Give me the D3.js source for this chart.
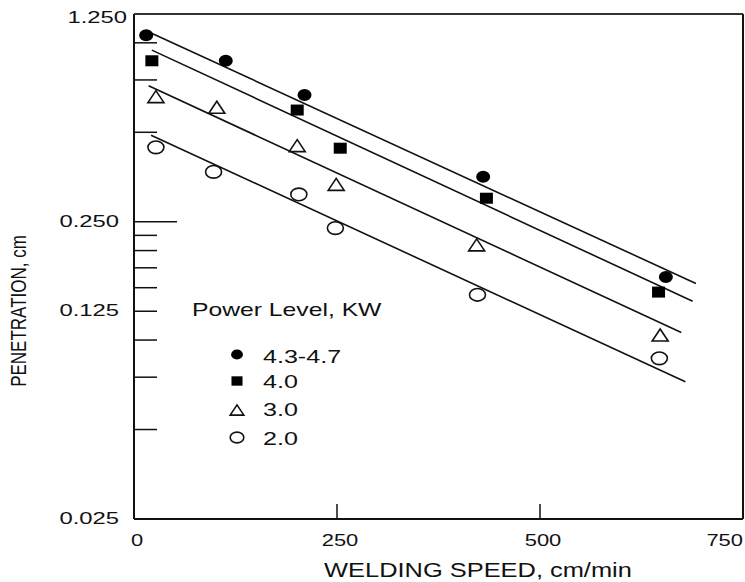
<!DOCTYPE html>
<html>
<head>
<meta charset="utf-8">
<script src="https://cdn.jsdelivr.net/npm/d3@7"></script>
<style>
  body { margin: 0; background: #fff; }
  svg { display: block; }
  text { font-family: "Liberation Sans", Arial, sans-serif; fill: #111; }
</style>
</head>
<body>
<script>
// series
const seriesNames = ['4.3-4.7', '4.0', '3.0', '2.0']
const speedHi = [15, 113, 210, 430, 655]
const penHi = [1.06, 0.87, 0.667, 0.354, 0.163]
const speed40 = [22, 201, 254, 434, 646]
const pen40 = [0.87, 0.594, 0.442, 0.300, 0.145]
const speed30 = [27, 102, 201, 249, 422, 648]
const pen30 = [0.659, 0.607, 0.451, 0.334, 0.209, 0.104]
const speed20 = [27, 98, 203, 248, 423, 647]
const pen20 = [0.445, 0.368, 0.309, 0.238, 0.142, 0.0868]

// fitted lines (start / end of each)
const fitSpeedStart = [21, 22, 18, 21]
const fitPenStart = [1.079, 0.945, 0.717, 0.489]
const fitSpeedEnd = [692, 688, 674, 679]
const fitPenEnd = [0.155, 0.135, 0.106, 0.0724]

// ticks
const xTicks = [0, 250, 500, 750]
const yLabels = [1.25, 0.25, 0.125, 0.025]
const yMinor = [1.0, 0.75, 0.5, 0.225, 0.2, 0.175, 0.15, 0.1, 0.075, 0.05]

let W = 745, H = 582
let pLeft = 134, pRight = 743, pTop = 14, pBottom = 519

let x = d3.scaleLinear().domain([0, 750]).range([pLeft, pRight])
let y = d3.scaleLog().domain([0.025, 1.25]).range([pBottom, pTop])

let svg = d3.select('body').append('svg').attr('width', W).attr('height', H)

// text helper: stretches glyphs horizontally like the scanned original
function label (g, str, px, py, size, stretch, anchor) {
  let t = g.append('text').attr('y', py).attr('font-size', size).text(str)
  let w = t.node().getComputedTextLength() * stretch
  let sx = px
  if (anchor == 'end') sx = px - w
  if (anchor == 'middle') sx = px - w / 2
  t.attr('x', sx).attr('textLength', w).attr('lengthAdjust', 'spacingAndGlyphs')
  return t
}

// frame
let frame = svg.append('g').attr('id', 'g_frame')
frame.append('line').attr('x1', pLeft).attr('y1', pTop).attr('x2', pLeft).attr('y2', pBottom)
  .attr('stroke', '#111').attr('stroke-width', 2)
frame.append('line').attr('x1', pLeft).attr('y1', pBottom).attr('x2', pRight).attr('y2', pBottom)
  .attr('stroke', '#111').attr('stroke-width', 2)
frame.append('line').attr('x1', pLeft).attr('y1', pTop).attr('x2', pRight).attr('y2', pTop)
  .attr('stroke', '#333').attr('stroke-width', 1.8)
frame.append('line').attr('x1', pRight).attr('y1', pTop).attr('x2', pRight).attr('y2', pBottom)
  .attr('stroke', '#111').attr('stroke-width', 2)

// y ticks, pointing inward
frame.selectAll('line.minor').data(yMinor).enter().append('line').attr('class', 'minor')
  .attr('x1', pLeft).attr('x2', pLeft + 23)
  .attr('y1', function (d) { return y(d) }).attr('y2', function (d) { return y(d) })
  .attr('stroke', '#111').attr('stroke-width', 1.5)
frame.selectAll('line.major').data(yLabels.filter(function (d) { return d > 0.025 && d < 1.25 }))
  .enter().append('line').attr('class', 'major')
  .attr('x1', pLeft).attr('x2', function (d) { return d == 0.25 ? pLeft + 43 : pLeft + 23 })
  .attr('y1', function (d) { return y(d) }).attr('y2', function (d) { return y(d) })
  .attr('stroke', '#111').attr('stroke-width', 1.5)

// x ticks, pointing up
frame.selectAll('line.xt').data(xTicks.filter(function (d) { return d > 0 && d < 750 }))
  .enter().append('line').attr('class', 'xt')
  .attr('x1', function (d) { return x(d) }).attr('x2', function (d) { return x(d) })
  .attr('y1', pBottom).attr('y2', pBottom - 15)
  .attr('stroke', '#111').attr('stroke-width', 1.5)

let texts = svg.append('g').attr('id', 'g_texts')
yLabels.forEach(function (d) {
  let py = Math.max(y(d) + 5, 23)
  label(texts, d3.format('.3f')(d), d == 1.25 ? 127 : 119, py, 17, 1.4, 'end')
})
xTicks.forEach(function (d) {
  label(texts, String(d), d == 750 ? x(d) : x(d) + 3, 546, 16, 1.37, d == 750 ? 'end' : 'middle')
})
label(texts, 'WELDING SPEED, cm/min', 478, 577, 21, 1.21, 'middle')
texts.append('text').attr('font-size', 17).attr('text-anchor', 'middle')
  .attr('transform', 'translate(26,311) scale(1.33,1) rotate(-90)')
  .text('PENETRATION, cm')

// fitted lines
let fits = seriesNames.map(function (n, i) {
  return {s1: fitSpeedStart[i], p1: fitPenStart[i], s2: fitSpeedEnd[i], p2: fitPenEnd[i]}
})
svg.append('g').attr('id', 'g_lines').selectAll('line').data(fits).enter().append('line')
  .attr('x1', function (d) { return x(d.s1) }).attr('y1', function (d) { return y(d.p1) })
  .attr('x2', function (d) { return x(d.s2) }).attr('y2', function (d) { return y(d.p2) })
  .attr('stroke', '#111').attr('stroke-width', 1.6)

// marker drawing
function marker (g, kind, cx, cy, k) {
  if (kind == 0) {
    g.append('ellipse').attr('cx', cx).attr('cy', cy).attr('rx', 7 * k).attr('ry', 6 * k).attr('fill', '#000')
  } else if (kind == 1) {
    g.append('rect').attr('x', cx - 6.5 * k).attr('y', cy - 5.5 * k).attr('width', 13 * k).attr('height', 11 * k).attr('fill', '#000')
  } else if (kind == 2) {
    let w = 8 * k, h = 6 * k
    g.append('path').attr('d', 'M' + (cx - w) + ',' + (cy + h) + 'L' + cx + ',' + (cy - h) + 'L' + (cx + w) + ',' + (cy + h) + 'Z')
      .attr('fill', '#fff').attr('stroke', '#111').attr('stroke-width', 1.6)
  } else {
    g.append('ellipse').attr('cx', cx).attr('cy', cy).attr('rx', 8 * k).attr('ry', 6.3 * k)
      .attr('fill', '#fff').attr('stroke', '#111').attr('stroke-width', 1.6)
  }
}

let speeds = [speedHi, speed40, speed30, speed20]
let pens = [penHi, pen40, pen30, pen20]
let pts = svg.append('g').attr('id', 'g_points')
speeds.forEach(function (sp, i) {
  sp.forEach(function (s, j) {
    marker(pts, i, x(s), y(pens[i][j]), 1)
  })
})

// legend
let leg = svg.append('g').attr('id', 'g_legend')
label(leg, 'Power Level, KW', 192, 316, 19, 1.3, 'start')
let rowY = [354.5, 381, 410, 437.5]
let textY = [363, 388, 416, 445]
seriesNames.forEach(function (n, i) {
  marker(leg, i, 237, rowY[i], 0.85)
  label(leg, n, 263, textY[i], 19, 1.32, 'start')
})
</script>
</body>
</html>
